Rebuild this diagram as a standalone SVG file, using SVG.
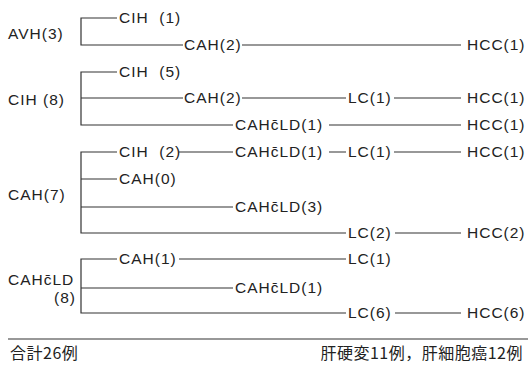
<svg xmlns="http://www.w3.org/2000/svg" width="528" height="366" viewBox="0 0 528 366">
<style>
text{font-family:"Liberation Sans",Arial,sans-serif;font-size:15.5px;fill:#222;letter-spacing:1px}
.jp{font-family:"Noto Sans CJK JP","Noto Sans CJK SC",sans-serif;font-size:16px;letter-spacing:0.5px}
#connectors path{stroke:#333;stroke-width:1.2;fill:none}
</style>
<rect width="528" height="366" fill="#fff"/>
<g id="connectors">
<path d="M117,18H81V45H183"/>
<path d="M242,45H461"/>
<path d="M117,72H81V125H233M81,98H183"/>
<path d="M242,98H346M394,98H461M329,125H461"/>
<path d="M117,152H81V233H346M81,179H117M81,207H233"/>
<path d="M179,152H233M329,152H346M394,152H461M395,233H461"/>
<path d="M117,259H81V313H346M81,288H233"/>
<path d="M179,259H346M395,313H461"/>
<path d="M8,339H528"/>
</g>
<g id="n-avh"><text x="8" y="39">AVH(3)</text></g>
<g id="n-cih8"><text x="8" y="105">CIH (8)</text></g>
<g id="n-cah7"><text x="8" y="200">CAH(7)</text></g>
<g id="n-cahld8"><text x="8" y="285">CAHc̄LD</text><text x="76" y="303" text-anchor="end">(8)</text></g>
<g id="n-r18"><text x="119" y="23" xml:space="preserve">CIH  (1)</text></g>
<g id="n-r45a"><text x="184" y="50">CAH(2)</text></g>
<g id="n-r45b"><text x="467" y="50">HCC(1)</text></g>
<g id="n-r72"><text x="119" y="77" xml:space="preserve">CIH  (5)</text></g>
<g id="n-r98a"><text x="184" y="103">CAH(2)</text></g>
<g id="n-r98b"><text x="348" y="103">LC(1)</text></g>
<g id="n-r98c"><text x="467" y="103">HCC(1)</text></g>
<g id="n-r125a"><text x="235" y="130">CAHc̄LD(1)</text></g>
<g id="n-r125b"><text x="467" y="130">HCC(1)</text></g>
<g id="n-r152a"><text x="119" y="157" xml:space="preserve">CIH  (2)</text></g>
<g id="n-r152b"><text x="235" y="157">CAHc̄LD(1)</text></g>
<g id="n-r152c"><text x="348" y="157">LC(1)</text></g>
<g id="n-r152d"><text x="467" y="157">HCC(1)</text></g>
<g id="n-r179"><text x="119" y="184">CAH(0)</text></g>
<g id="n-r207"><text x="235" y="212">CAHc̄LD(3)</text></g>
<g id="n-r233a"><text x="348" y="238">LC(2)</text></g>
<g id="n-r233b"><text x="467" y="238">HCC(2)</text></g>
<g id="n-r259a"><text x="119" y="264">CAH(1)</text></g>
<g id="n-r259b"><text x="348" y="264">LC(1)</text></g>
<g id="n-r288"><text x="235" y="293">CAHc̄LD(1)</text></g>
<g id="n-r313a"><text x="348" y="318">LC(6)</text></g>
<g id="n-r313b"><text x="467" y="318">HCC(6)</text></g>
<g id="footer">
<text class="jp" x="10" y="359">合計26例</text>
<text class="jp" x="523" y="359" text-anchor="end">肝硬変11例，肝細胞癌12例</text>
</g>
</svg>
